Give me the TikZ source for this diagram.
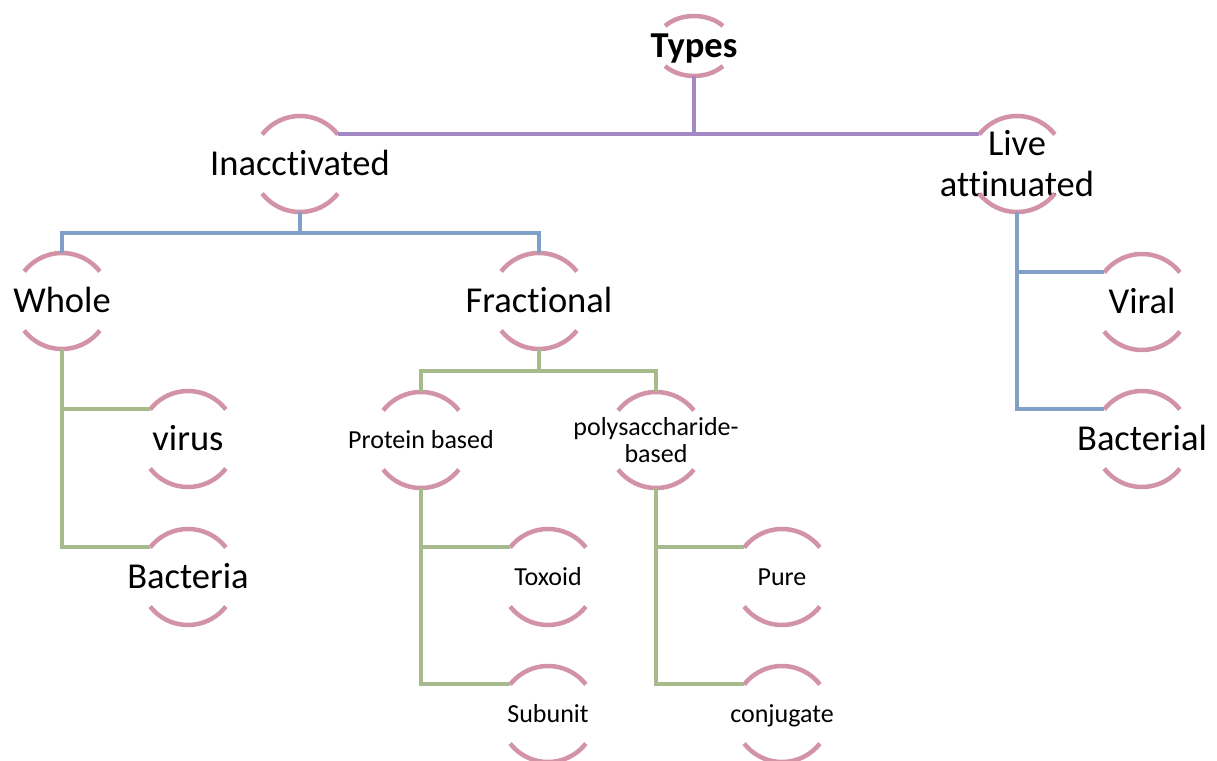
\documentclass[tikz,border=0pt]{standalone}
\usepackage{fontspec}
\setmainfont[Ligatures={NoCommon}]{Carlito}
\definecolor{ringc}{RGB}{210,147,167}
\definecolor{purp}{RGB}{163,136,196}
\definecolor{bluc}{RGB}{128,160,200}
\definecolor{grnc}{RGB}{167,186,140}
\newcommand\ringarcs[1]{%
  \draw[ring] ([shift={(38:48pt)}]#1.center) arc[start angle=38,end angle=142,radius=48pt];
  \draw[ring] ([shift={(218:48pt)}]#1.center) arc[start angle=218,end angle=322,radius=48pt];
  \coordinate (#1-t) at ([yshift=48pt]#1.center);
  \coordinate (#1-b) at ([yshift=-48pt]#1.center);
  \coordinate (#1-tl) at ([shift={(142:48pt)}]#1.center);
  \coordinate (#1-tr) at ([shift={(38:48pt)}]#1.center);
}
\begin{document}
\begin{tikzpicture}[x=1pt,y=1pt,
  ring/.style={draw=ringc,line width=4.5pt},
  big/.style={font=\fontsize{36.5}{41}\selectfont,inner sep=0pt,text height=23.2pt,text depth=0pt},
  small/.style={font=\fontsize{26}{30}\selectfont,inner sep=0pt,text height=16.7pt,text depth=0pt},
  bigmulti/.style={font=\fontsize{36.5}{41}\selectfont,inner sep=0pt,align=center},
  smallmulti/.style={font=\fontsize{26}{27}\selectfont,inner sep=0pt,align=center},
  conn/.style={line width=4pt}]
\useasboundingbox (0,0) rectangle (1217,760);

% nodes
\node[big,font=\fontsize{36.5}{41}\selectfont\bfseries] (types) at (694,714) {Types};
\node[big] (inac) at (300,596) {Inacctivated};
\node[bigmulti] (live) at (1017,596) {Live\\attinuated};
\node[big] (whole) at (62,459) {Whole};
\node[big] (fract) at (539,459) {Fractional};
\node[big] (viral) at (1142,458) {Viral};
\node[big] (virus) at (188,321) {virus};
\node[big] (bacteria) at (188,183) {Bacteria};
\node[big] (bactl) at (1142,321) {Bacterial};
\node[small] (prot) at (421,320) {Protein based};
\node[smallmulti] (poly) at (656,320) {polysaccharide-\\based};
\node[small] (toxoid) at (548,183) {Toxoid};
\node[small] (subunit) at (548,46) {Subunit};
\node[small] (pure) at (782,183) {Pure};
\node[small] (conj) at (782,46) {conjugate};

% arcs
\draw[ring] ([shift={(42:39pt and 30pt)}]types.center) arc[start angle=42,end angle=138,x radius=39pt,y radius=30pt];
\draw[ring] ([shift={(222:39pt and 30pt)}]types.center) arc[start angle=222,end angle=318,x radius=39pt,y radius=30pt];
\coordinate (types-b) at ([yshift=-30pt]types.center);
\ringarcs{inac}
\ringarcs{live}
\ringarcs{whole}
\ringarcs{fract}
\ringarcs{viral}
\ringarcs{virus}
\ringarcs{bacteria}
\ringarcs{bactl}
\ringarcs{prot}
\ringarcs{poly}
\ringarcs{toxoid}
\ringarcs{subunit}
\ringarcs{pure}
\ringarcs{conj}

% connectors
\draw[conn,purp] (types-b) -- (types-b |- inac-tr);
\draw[conn,purp] (inac-tr) -- (live-tl);
\draw[conn,bluc] (inac-b) -- ++(0,-21) coordinate (inac-j);
\draw[conn,bluc] (whole-t) |- (inac-j) -| (fract-t);
\draw[conn,bluc] (live-b) |- (viral-tl);
\draw[conn,bluc] (live-b) |- (bactl-tl);
\draw[conn,grnc] (whole-b) |- (virus-tl);
\draw[conn,grnc] (whole-b) |- (bacteria-tl);
\draw[conn,grnc] (fract-b) -- ++(0,-22) coordinate (fract-j);
\draw[conn,grnc] (prot-t) |- (fract-j) -| (poly-t);
\draw[conn,grnc] (prot-b) |- (toxoid-tl);
\draw[conn,grnc] (prot-b) |- (subunit-tl);
\draw[conn,grnc] (poly-b) |- (pure-tl);
\draw[conn,grnc] (poly-b) |- (conj-tl);
\end{tikzpicture}
\end{document}
